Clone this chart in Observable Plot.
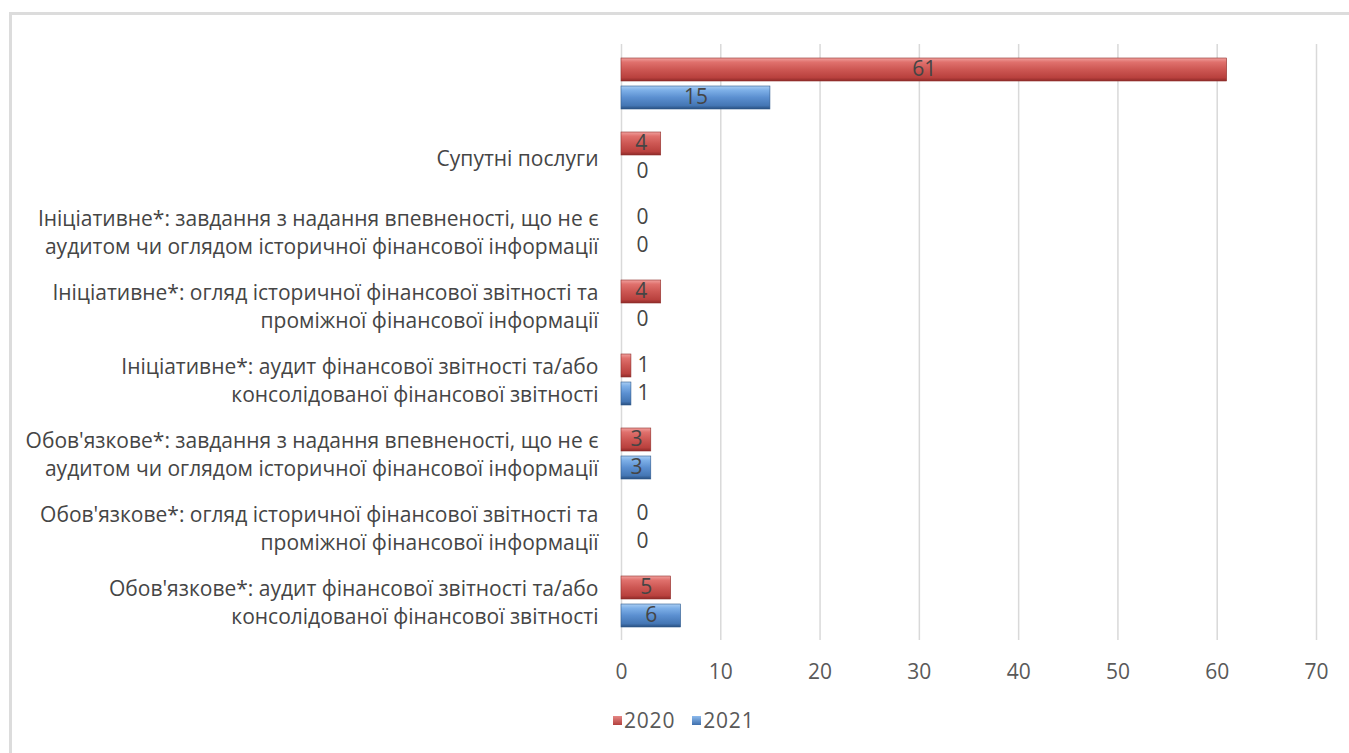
<!DOCTYPE html>
<html>
<head>
<meta charset="utf-8">
<script src="https://cdn.jsdelivr.net/npm/d3@7"></script>
<script src="https://cdn.jsdelivr.net/npm/@observablehq/plot@0.6"></script>
<style>
  html, body { margin: 0; padding: 0; background: #fff; }
  body { width: 1349px; height: 753px; position: relative; overflow: hidden; font-family: "Open Sans", sans-serif; }
  #frame { position: absolute; left: 9px; top: 12px; width: 1350px; height: 760px; border-left: 3px solid #dcdcdc; border-top: 3px solid #dcdcdc; box-sizing: border-box; }
  #chart { position: absolute; left: 0; top: 0; }
  #legend { position: absolute; top: 705px; left: 613px; height: 30px; display: flex; align-items: center; font-size: 21px; color: #595959; letter-spacing: 0.8px; }
  #legend span.item { display: inline-flex; align-items: center; margin-right: 17px; }
  #legend span.sw { display: inline-block; width: 9px; height: 9px; margin-right: 2px; }
</style>
</head>
<body>
<div id="frame"></div>
<div id="chart"></div>
<div id="legend"></div>
<script>
// Categories (top to bottom), labels with line breaks
const categories = [
  "",
  "Супутні послуги",
  "Ініціативне*: завдання з надання впевненості, що не є\nаудитом чи оглядом історичної фінансової інформації",
  "Ініціативне*: огляд історичної фінансової звітності та\nпроміжної фінансової інформації",
  "Ініціативне*: аудит фінансової звітності та/або\nконсолідованої фінансової звітності",
  "Обов'язкове*: завдання з надання впевненості, що не є\nаудитом чи оглядом історичної фінансової інформації",
  "Обов'язкове*: огляд історичної фінансової звітності та\nпроміжної фінансової інформації",
  "Обов'язкове*: аудит фінансової звітності та/або\nконсолідованої фінансової звітності"
];
const values2020 = [61, 4, 0, 4, 1, 3, 0, 5];
const values2021 = [15, 0, 0, 0, 1, 3, 0, 6];
const seriesNames = ["2020", "2021"];
const xTicks = [0, 10, 20, 30, 40, 50, 60, 70];

const rows2020 = categories.map((c, i) => ({cat: c, v: values2020[i]}));
const rows2021 = categories.map((c, i) => ({cat: c, v: values2021[i]}));

const font = "Open Sans, sans-serif";
const textCol = "#454545";
const fs = 21;

const inside = d => d.v >= 3;
const zero = d => d.v === 0;
const one = d => d.v > 0 && d.v < 3;

const lbl = (rows, dy, filter, xf, dx, anchor) =>
  Plot.text(rows.filter(filter), {x: xf, y: "cat", text: d => String(d.v), dy, dx, textAnchor: anchor, fill: textCol, fontSize: fs, fontFamily: font});

const plot = Plot.plot({
  width: 1349,
  height: 700,
  marginLeft: 621,
  marginRight: 33,
  marginTop: 44,
  marginBottom: 60,
  style: {fontFamily: font, fontSize: fs + "px", color: "#595959", background: "transparent"},
  x: {domain: [0, 70], ticks: xTicks, label: null},
  y: {domain: categories, padding: 0, axis: null},
  marks: [
    Plot.gridX(xTicks, {stroke: "#d9d9d9", strokeOpacity: 1, strokeWidth: 1.5}),
    Plot.axisX(xTicks, {tickSize: 0, tickPadding: 24, fontSize: fs, fill: "#595959", label: null}),
    Plot.barX(rows2020, {x: "v", y: "cat", fill: "url(#gradRed)", insetTop: 12, insetBottom: 39, stroke: "#8f2f2c", strokeWidth: 0.6}),
    Plot.barX(rows2021, {x: "v", y: "cat", fill: "url(#gradBlue)", insetTop: 40, insetBottom: 11, stroke: "#2f5a8c", strokeWidth: 0.6}),
    // value labels inside bars
    lbl(rows2020, -14, inside, d => d.v / 2, 0, "middle"),
    lbl(rows2021, 14, inside, d => d.v / 2, 0, "middle"),
    // value labels outside for small values
    lbl(rows2020, -14, zero, "v", 21, "middle"),
    lbl(rows2021, 14, zero, "v", 21, "middle"),
    lbl(rows2020, -14, one, "v", 12, "middle"),
    lbl(rows2021, 14, one, "v", 12, "middle"),
    // category labels
    Plot.text(categories, {y: d => d, text: d => d, frameAnchor: "left", textAnchor: "end", dx: -23, lineHeight: 1.33, fill: textCol, fontSize: fs, fontFamily: font})
  ]
});

// gradients for bevelled bars
const defs = d3.select(plot).insert("defs", ":first-child");
function grad(id, stops) {
  const g = defs.append("linearGradient").attr("id", id).attr("x1", 0).attr("y1", 0).attr("x2", 0).attr("y2", 1);
  stops.forEach(([o, c]) => g.append("stop").attr("offset", o).attr("stop-color", c));
}
grad("gradRed", [[0, "#f0a09d"], [0.18, "#e0716d"], [0.5, "#cd5753"], [0.85, "#b9413e"], [1, "#8e2a28"]]);
grad("gradBlue", [[0, "#a9cdf3"], [0.18, "#7eb0e8"], [0.5, "#5b8fd0"], [0.85, "#4476b4"], [1, "#284f80"]]);

document.getElementById("chart").appendChild(plot);

// legend
const legend = document.getElementById("legend");
[[seriesNames[0], "linear-gradient(#e58784, #b3403d)"], [seriesNames[1], "linear-gradient(#8dbbee, #3f70ad)"]].forEach(([name, bg]) => {
  const item = document.createElement("span");
  item.className = "item";
  const sw = document.createElement("span");
  sw.className = "sw";
  sw.style.background = bg;
  item.appendChild(sw);
  item.appendChild(document.createTextNode(name));
  legend.appendChild(item);
});
</script>
</body>
</html>
